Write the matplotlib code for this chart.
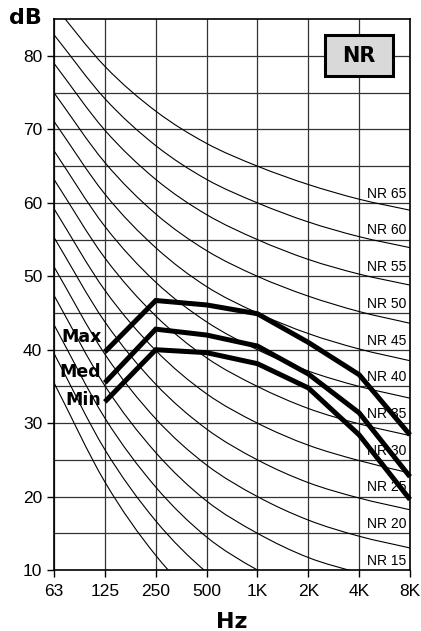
import numpy as np
import matplotlib
matplotlib.use("Agg")
import matplotlib.pyplot as plt
from matplotlib.path import Path
from matplotlib.patches import PathPatch, Rectangle

# ---- data ----
bands = ["63", "125", "250", "500", "1K", "2K", "4K", "8K"]
nr_levels = [0, 5, 10, 15, 20, 25, 30, 35, 40, 45, 50, 55, 60, 65]
nr_table = [
    [35.5, 22.0, 12.0, 4.8, 0, -3.5, -6.1, -8.0],
    [39.5, 26.4, 16.7, 9.7, 5, 1.6, -1.0, -2.9],
    [43.4, 30.7, 21.3, 14.5, 10, 6.7, 4.2, 2.3],
    [47.4, 35.1, 26.0, 19.4, 15, 11.7, 9.6, 7.8],
    [51.3, 39.4, 30.6, 24.3, 20, 16.8, 14.6, 13.0],
    [55.3, 43.8, 35.3, 29.2, 25, 21.9, 19.8, 18.2],
    [59.2, 48.1, 39.9, 34.0, 30, 27.0, 24.9, 23.2],
    [63.2, 52.5, 44.6, 38.9, 35, 32.0, 29.9, 28.3],
    [67.1, 56.8, 49.2, 43.8, 40, 37.1, 35.0, 33.4],
    [71.1, 61.2, 53.9, 48.6, 45, 42.2, 40.1, 38.5],
    [75.0, 65.5, 58.5, 53.5, 50, 47.3, 45.2, 43.6],
    [79.0, 69.9, 63.2, 58.4, 55, 52.3, 50.3, 48.8],
    [82.9, 74.2, 67.8, 63.2, 60, 57.4, 55.4, 53.9],
    [86.9, 78.6, 72.5, 68.1, 65, 62.5, 60.5, 59.0],
]
nr_labelled = [15, 20, 25, 30, 35, 40, 45, 50, 55, 60, 65]

meas_bands = ["125", "250", "500", "1K", "2K", "4K", "8K"]
max_vals = [39.7, 46.7, 46.1, 44.9, 41.0, 36.6, 28.4]
med_vals = [35.5, 42.8, 42.0, 40.5, 36.7, 31.4, 22.7]
min_vals = [32.9, 40.0, 39.6, 38.1, 34.8, 28.4, 19.6]
series_names = ["Max", "Med", "Min"]
series_label_y = [41.7, 37.0, 33.2]

# ---- figure ----
W, H = 421, 631
fig = plt.figure(figsize=(W / 100, H / 100), dpi=100)
L, R, T, B = 54, 410, 19.3, 570
ax = fig.add_axes([L / W, 1 - B / H, (R - L) / W, (B - T) / H])

xs = np.arange(len(bands))
ax.set_xlim(0, len(bands) - 1)
ax.set_ylim(10, 85)

tick_font = "Liberation Sans"
ax.set_xticks(xs)
ax.set_xticklabels(bands, fontfamily=tick_font, fontsize=12.5)
ax.set_yticks(np.arange(10, 81, 10))
ax.set_yticklabels([str(v) for v in range(10, 81, 10)], fontfamily=tick_font, fontsize=12.5)
ax.tick_params(axis="both", direction="out", length=5, width=1, color="black")
ax.tick_params(axis="x", pad=5)
ax.tick_params(axis="y", pad=3.5)

gc = "#333333"
for x in xs:
    ax.axvline(x, color=gc, lw=0.9, zorder=1)
for y in np.arange(15, 85, 5):
    ax.axhline(y, color=gc, lw=0.9, zorder=1)
for s in ax.spines.values():
    s.set_color("black")
    s.set_linewidth(1.2)


def smooth_path(x, y):
    x = np.asarray(x, float)
    y = np.asarray(y, float)
    pts = np.column_stack([x, y])
    n = len(pts)
    verts = [pts[0]]
    codes = [Path.MOVETO]
    for i in range(n - 1):
        p0 = pts[i - 1] if i > 0 else 2 * pts[0] - pts[1]
        p1 = pts[i]
        p2 = pts[i + 1]
        p3 = pts[i + 2] if i + 2 < n else 2 * pts[-1] - pts[-2]
        c1 = p1 + (p2 - p0) / 6.0
        c2 = p2 - (p3 - p1) / 6.0
        verts += [c1, c2, p2]
        codes += [Path.CURVE4] * 3
    return Path(verts, codes)


for lvl, row in zip(nr_levels, nr_table):
    patch = PathPatch(smooth_path(xs, row), fill=False, edgecolor="black", lw=0.8, zorder=2)
    ax.add_patch(patch)

for lvl in nr_labelled:
    ax.text(6.93, lvl - 3.75, f"NR {lvl}", ha="right", va="center",
            fontfamily=tick_font, fontsize=10, zorder=3)

mx = [bands.index(b) for b in meas_bands]
for vals in (max_vals, med_vals, min_vals):
    ax.plot(mx, vals, color="black", lw=3.6, solid_joinstyle="miter",
            solid_capstyle="butt", zorder=4, clip_on=False)

for name, yv in zip(series_names, series_label_y):
    ax.text(0.93, yv, name, ha="right", va="center", fontsize=12.5,
            fontweight="heavy", fontfamily="DejaVu Sans", zorder=5)

# NR box
bx0, by0, bx1, by1 = 325, 35, 393, 76
fig.patches.append(Rectangle((bx0 / W, 1 - by1 / H), (bx1 - bx0) / W, (by1 - by0) / H,
                             transform=fig.transFigure, facecolor="#d9d9d9",
                             edgecolor="black", lw=2.2, zorder=10))
fig.text((bx0 + bx1) / 2 / W, 1 - (by0 + by1) / 2 / H, "NR", ha="center", va="center",
         fontsize=15, fontweight="bold", fontfamily="DejaVu Sans", zorder=11)

fig.text(25 / W, 1 - 18 / H, "dB", ha="center", va="center", fontsize=16,
         fontweight="heavy", fontfamily="DejaVu Sans")
fig.text(232 / W, 1 - 622 / H, "Hz", ha="center", va="center", fontsize=16,
         fontweight="heavy", fontfamily="DejaVu Sans")

fig.savefig("out.png", dpi=100)
